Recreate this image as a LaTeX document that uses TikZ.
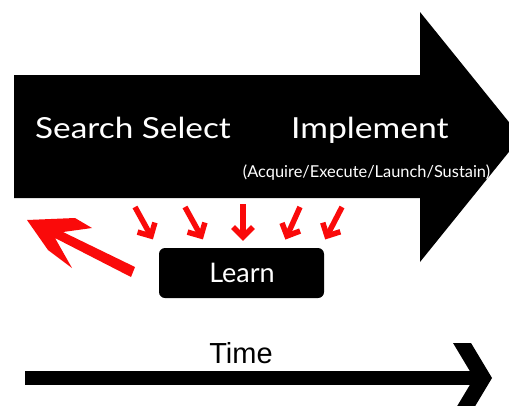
\documentclass[tikz,border=0pt]{standalone}
\usepackage{fontspec}
\setmainfont{Lato}
\newfontfamily\timefont{Liberation Sans}
\usetikzlibrary{calc}
\definecolor{learnred}{RGB}{250,10,10}
\begin{document}
\begin{tikzpicture}[x=1pt,y=-1pt,
  phase/.style={text=white,inner sep=0pt,font=\fontsize{29}{30}\selectfont},
  feed/.style={learnred,line width=5.5pt,miter limit=4},
  learnbox/.style={fill=black,rounded corners=6pt,minimum width=165pt,minimum height=50pt,inner sep=0pt}]
\clip (0,0) rectangle (509,405);
\fill[white] (0,0) rectangle (509,405);

% main process arrow
\fill[black] (14,75) -- (420,75) -- (420,12) -- (521,137) -- (420,262)
  -- (420,198) -- (14,198) -- cycle;
\node[phase,anchor=base west] (search) at (35,138) {\scalebox{1.15}[1]{Search Select}};
\node[phase,anchor=base west] (impl) at (291,138) {\scalebox{1.16}[1]{Implement}};
\node[text=white,inner sep=0pt,anchor=base,font=\fontsize{16.4}{17}\selectfont] (sub) at (366.5,177)
  {(Acquire/Execute/Launch/Sustain)};

% learning box
\node[learnbox] (learn) at (241.5,273) {};
\node[phase,anchor=base,font=\fontsize{27}{28}\selectfont] (learntxt) at (242,282) {Learn};

% feedback arrows into the learning box
\coordinate (f1s) at (135,207); \coordinate (f1e) at (151,236);
\coordinate (f2s) at (185,207); \coordinate (f2e) at (201,236);
\coordinate (f3s) at (243,204); \coordinate (f3e) at (243,237);
\coordinate (f4s) at (300,207); \coordinate (f4e) at (287,236);
\coordinate (f5s) at (342,207); \coordinate (f5e) at (327,236);
\foreach \i in {1,...,5} {
  \draw[feed] (f\i s) -- (f\i e);
  \draw[feed] ($(f\i e)!14pt!45:(f\i s)$) -- (f\i e) -- ($(f\i e)!14pt!-45:(f\i s)$);
}

% large return arrow
\fill[learnred] (27,220) -- (75,218) -- (92,228) -- (63,232) -- (135,267)
  -- (131,277) -- (55,238) -- (72,268) -- (48,250) -- cycle;

% time axis
\fill[black] (25,371) rectangle (478,385);
\fill[black] (453,343) -- (471,343) -- (492,378) -- (471,413) -- (453,413) -- (474,378) -- cycle;
\node[anchor=base,inner sep=0pt,font=\timefont\fontsize{29}{30}\selectfont] (time) at (241,363) {Time};
\end{tikzpicture}
\end{document}
